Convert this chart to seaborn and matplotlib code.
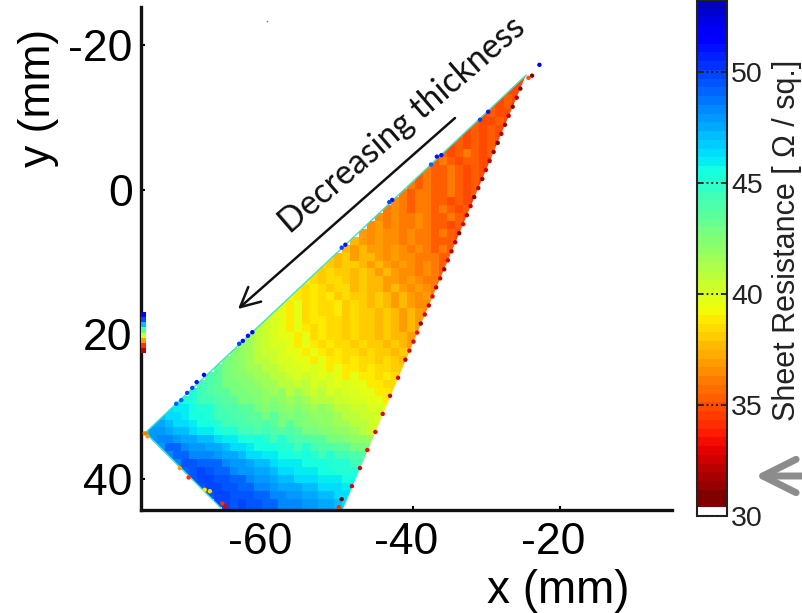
"""
Sheet resistance map of a wedge film with jet colour scale (coarse readout from the picture).
"""
import matplotlib

matplotlib.use("Agg")
import matplotlib.pyplot as plt
import matplotlib.transforms as mtrans
import numpy as np
import pandas as pd
import seaborn as sns
from matplotlib.colors import ListedColormap
from matplotlib.patches import Polygon

# grid of the map, mm
GRID_X0 = -77.2
GRID_Y0 = -16.62
GRID_STEP = 1.1
N_COLS = 49

# first column of each row, then sheet resistance along that row (ohm/sq)
row_start = [47, 46, 45, 44, 43, 42, 41, 40, 39, 38, 37, 36, 35, 34, 33, 32, 31, 30, 29, 28,
             27, 26, 25, 23, 22, 21, 20, 19, 18, 17, 16, 15, 14, 13, 12, 11, 10, 9, 8, 7,
             6, 4, 3, 2, 1, 0, 1, 2, 3, 4, 5, 6, 7, 8, 9, 10]
row_values = [
    [35, 34.5],
    [35, 35, 34.5],
    [35, 35, 34.5],
    [35, 35.5, 35, 34.5],
    [35.5, 35, 35.5, 34.5],
    [35, 35.5, 35, 35, 34.5],
    [35.5, 35, 35, 35.5, 35, 34.5],
    [35, 35.5, 35, 35.5, 35, 34.5],
    [35.5, 35, 35.5, 35, 35.5, 35, 34.5],
    [35, 35.5, 35, 35.5, 35, 35.5, 34.5],
    [35.5, 35, 35.5, 36, 35.5, 35, 35.5, 34.5],
    [35.5, 36, 35.5, 35, 35.5, 35.5, 35, 34.5],
    [36, 35.5, 35.5, 36, 35.5, 35, 35.5, 35, 34.5],
    [35.5, 36, 35.5, 35.5, 36, 35.5, 35, 35.5, 35, 34.5],
    [36, 35.5, 36, 35.5, 35.5, 36, 35.5, 35, 35.5, 34.5],
    [36, 35.5, 36, 36, 35.5, 35.5, 36, 35.5, 35, 35.5, 34.5],
    [36.5, 36, 35.5, 36, 36, 35.5, 35.5, 35, 35.5, 35, 34.5],
    [36, 36.5, 36, 35.5, 36, 36, 35.5, 36, 35.5, 35, 35.5, 34.5],
    [36.5, 36, 36.5, 36, 36, 36.5, 36, 35.5, 35.5, 36, 35.5, 35, 34.5],
    [36.5, 37, 36, 36.5, 36, 36, 36.5, 36, 35.5, 35.5, 35, 35.5, 34.5],
    [37, 36.5, 37, 36.5, 36.5, 36, 36.5, 36, 36, 35.5, 36, 35.5, 35, 34.5],
    [37.5, 37, 36.5, 37, 36.5, 36.5, 36, 36.5, 36, 36, 35.5, 35.5, 35.5, 35],
    [37.5, 37, 37.5, 37, 37, 36.5, 37, 36.5, 36, 36.5, 36, 35.5, 36, 35.5, 35],
    [38, 37.5, 38, 37, 37.5, 37.5, 37, 36.5, 37, 36.5, 36.5, 36, 36, 36, 35.5, 35.5, 35],
    [38.5, 38, 37.5, 38, 38, 37.5, 37, 37.5, 37, 36.5, 37, 36.5, 36, 36.5, 36, 35.5, 35],
    [38.5, 38, 38.5, 38, 38, 37.5, 38, 37.5, 37, 37.5, 37, 36.5, 36.5, 36, 36.5, 36, 35.5, 35],
    [39, 38.5, 38, 38.5, 38.5, 38, 37.5, 38, 37.5, 37.5, 37, 37, 36.5, 37, 36.5, 36, 36, 35],
    [39, 38.5, 39, 38.5, 38, 38.5, 38.5, 37.5, 38, 37.5, 37.5, 37, 37.5, 37, 36.5, 37, 36.5, 36, 35.5],
    [39.5, 39, 38.5, 39, 38.5, 39, 38, 38.5, 38, 38, 37.5, 38, 37.5, 37, 37.5, 37, 36.5, 37, 36, 35.5],
    [39.5, 39, 39.5, 38.5, 39, 38.5, 38.5, 39, 38, 38.5, 38, 37.5, 38, 37.5, 37, 37.5, 37, 36.5, 36.5, 36],
    [40, 39.5, 39, 39.5, 38.5, 39, 38.5, 38.5, 39, 38, 38.5, 38, 38, 37.5, 38, 37.5, 37, 37.5, 37, 36.5, 36],
    [40.5, 40, 39.5, 39, 39.5, 38.5, 39, 39, 38.5, 38.5, 38, 38.5, 38, 38, 37.5, 38, 37.5, 37, 37.5, 37, 36.5],
    [41, 40.5, 40, 39.5, 39, 39.5, 39, 38.5, 39, 38.5, 38.5, 38, 38.5, 38, 38, 37.5, 38, 37.5, 37, 37.5, 37, 36.5],
    [41.5, 41, 40.5, 40, 39.5, 39.5, 39, 39.5, 38.5, 39, 38.5, 38.5, 38, 38.5, 38, 38, 37.5, 38, 37.5, 37.5, 37, 37, 36.5],
    [42, 41.5, 41, 40.5, 40, 40, 39.5, 39, 39.5, 39, 38.5, 39, 38.5, 38.5, 38, 38.5, 38, 38, 37.5, 38, 37.5, 37, 37],
    [42.5, 42, 41.5, 41, 40.5, 40.5, 40, 39.5, 39.5, 39, 39.5, 39, 38.5, 39, 38.5, 38.5, 38, 38.5, 38, 38, 37.5, 38, 37.5, 37],
    [43, 42.5, 42, 41.5, 41, 41, 40.5, 40, 40, 39.5, 39.5, 39, 39.5, 39, 39, 38.5, 39, 38.5, 38.5, 38, 38.5, 38, 37.5, 37.5],
    [43.5, 43, 42.5, 42, 41.5, 41.5, 41, 41, 40.5, 40, 40, 39.5, 40, 39.5, 39, 39.5, 39, 39, 38.5, 39, 38.5, 38.5, 38, 38, 37.5],
    [44, 43.5, 43, 42.5, 42.5, 42, 41.5, 41.5, 41, 41, 40.5, 40, 40.5, 40, 39.5, 40, 39.5, 39, 39.5, 39, 39, 38.5, 39, 38.5, 38],
    [44.5, 44, 43.5, 43, 43, 42.5, 42.5, 42, 41.5, 41.5, 41, 41, 40.5, 41, 40, 40.5, 40, 39.5, 40, 39.5, 39.5, 39, 39, 38.5, 38.5, 38],
    [45, 44.5, 44, 43.5, 43.5, 43, 43, 42.5, 42.5, 42, 41.5, 42, 41, 41.5, 41, 40.5, 41, 40, 40.5, 40, 40, 39.5, 39.5, 39, 39, 38.5, 38],
    [46, 45.5, 45, 44.5, 44.5, 44, 43.5, 43.5, 43, 43, 42.5, 42, 42.5, 42, 41.5, 42, 41.5, 41, 41, 41, 40.5, 40.5, 40, 40, 39.5, 39.5, 39, 38.5],
    [46.5, 46, 46, 45.5, 45, 45, 44.5, 44, 44, 43.5, 43.5, 43, 42.5, 43, 42.5, 42, 42.5, 42, 41.5, 42, 41.5, 41, 41, 40.5, 40.5, 40, 40, 39.5, 39],
    [47, 46.5, 46.5, 46, 45.5, 45.5, 45, 44.5, 44.5, 44, 44, 43.5, 43.5, 43, 43.5, 43, 42.5, 43, 42.5, 42, 42, 42, 41.5, 41, 41, 40.5, 40.5, 40, 39.5],
    [47.5, 47.5, 47, 46.5, 46.5, 46, 45.5, 45.5, 45, 44.5, 44.5, 44, 44, 43.5, 44, 43.5, 43, 43.5, 43, 42.5, 42.5, 42, 42, 41.5, 41.5, 41, 41, 40.5, 40, 39.5],
    [47, 48, 48, 47.5, 47, 47, 46.5, 46, 46, 45.5, 45, 45, 44.5, 44.5, 44, 44.5, 44, 43.5, 44, 43.5, 43, 43, 42.5, 42.5, 42, 42, 41.5, 41, 40.5, 40],
    [48, 48.5, 48.5, 48, 47.5, 47.5, 47, 47, 46.5, 46, 46, 45.5, 45, 45.5, 45, 44.5, 45, 44.5, 44, 44, 43.5, 43.5, 43, 43, 42.5, 42, 42, 41.5, 41],
    [48, 49, 49, 48.5, 48, 48, 47.5, 47.5, 47, 46.5, 46.5, 46, 45.5, 45.5, 45.5, 45, 45, 44.5, 45, 44.5, 44, 44, 43.5, 43.5, 43, 43, 42.5, 42],
    [48.5, 49, 49, 48.5, 48.5, 48.5, 48, 47.5, 47.5, 47, 46.5, 46.5, 46, 46, 45.5, 45.5, 45, 45.5, 45, 44.5, 45, 44.5, 44.5, 44, 43.5, 43],
    [48.5, 49.5, 49.5, 49, 49, 49, 48.5, 48, 48, 47.5, 47, 47, 46.5, 46, 46, 46, 45.5, 45.5, 45.5, 45, 45, 45, 44.5, 44.5, 44],
    [49, 49.5, 50, 49.5, 49, 49, 48.5, 48, 48, 47.5, 47.5, 47, 46.5, 46.5, 46, 46, 46, 45.5, 45.5, 45, 45, 45, 44.5],
    [49.5, 50, 50, 49.5, 49.5, 49, 49, 48.5, 48, 48, 47.5, 47, 47, 46.5, 46.5, 46.5, 46, 46, 46, 45.5, 45.5, 45],
    [49.5, 50, 50, 49.5, 49.5, 49, 49, 48.5, 48.5, 48, 47.5, 47.5, 47.5, 47, 47, 46.5, 46.5, 46.5, 46, 46, 45.5],
    [49.5, 50, 50, 49.5, 49.5, 49.5, 49, 49, 48.5, 48.5, 48, 48, 47.5, 47.5, 47, 47, 46.5, 46.5, 46],
    [50, 50, 49.5, 50, 49.5, 49.5, 49, 49, 48.5, 48.5, 48.5, 48, 48, 47.5, 47.5, 47, 46.5, 46.5],
    [50, 49.5, 50, 49.5, 49.5, 49, 49, 48.5, 48.5, 48.5, 48, 48, 47.5, 47.5, 47, 46.5],
]

# outline of the film, mm
film_x = [-24.6, -76.6, -66.2, -49.6]
film_y = [-15.9, 33.6, 44.1, 44.1]

# stray readings on the edges of the film
edge_x = [-22.8, -23.8, -24.3, -29.8, -30.9, -36.2, -36.8, -37.6, -42.9, -43.3, -49.3, -49.8,
          -62.0, -62.6, -63.3, -63.8, -68.6, -69.6, -70.2, -70.9, -71.7, -72.4,
          -76.7, -76.3, -70.7, -68.5, -67.8, -66.1, -65.6, -71.9, -49.8, -50.2,
          -25.4, -26.45, -27.5, -28.5, -29.6, -30.6, -31.7, -32.7, -33.75, -34.8, -35.8, -36.9,
          -37.9, -39.0, -40.0, -41.1, -42.1, -43.2, -44.2, -45.2, -46.3, -47.3, -48.4,
          -25.9, -27.0, -28.0, -29.05, -30.1, -31.15, -32.2, -33.2, -34.3, -35.3, -36.35, -37.4,
          -38.45, -39.5, -40.55]
edge_y = [-17.3, -15.8, -15.5, -10.8, -9.7, -4.8, -4.6, -3.5, 1.4, 1.7, 7.6, 8.0,
          19.7, 20.2, 20.9, 21.3, 25.6, 26.6, 27.4, 28.1, 29.1, 29.6,
          33.7, 34.1, 39.8, 41.5, 41.7, 43.4, 43.8, 38.5, 42.8, 43.9,
          -14, -11.5, -9, -6.5, -4, -1.5, 1, 3.5, 6, 8.5, 11, 13.5,
          16, 18.5, 21, 23.5, 26, 28.5, 31, 33.5, 36, 38.5, 41,
          -12.75, -10.25, -7.75, -5.25, -2.75, -0.25, 2.25, 4.75, 7.25, 9.75, 12.25, 14.75,
          17.25, 19.75, 22.25]
edge_val = [52, 31, 35, 51, 50, 51, 51, 49, 51, 50, 51, 50,
            52, 51, 51, 50, 52, 51, 50, 50, 49, 49,
            36, 37, 34, 39, 38.5, 34, 33, 37, 31, 34,
            31, 31, 31.5, 31, 32, 31.5, 31, 32, 31, 32, 31.5, 32,
            32.5, 31.5, 33, 32, 33, 32.5, 33, 33, 33.5, 33, 33,
            32, 32.5, 32, 31.5, 32.5, 32, 32.5, 33, 32, 33, 32.5, 33,
            33, 33.5, 33]

# colour sliver on the left axis
sliver_y = [17.3, 18.0, 18.7, 19.4, 20.1, 20.8, 21.5, 22.2]
sliver_val = [52, 50, 47, 44, 40, 37, 34, 32]

x_ticks = [-60, -40, -20]
y_ticks = [-20, 0, 20, 40]
cbar_ticks = [30, 35, 40, 45, 50]
VMIN, VMAX = 30, 53.25


def col(x):
    return (np.asarray(x, dtype=float) - GRID_X0) / GRID_STEP


def row(y):
    return (np.asarray(y, dtype=float) - GRID_Y0) / GRID_STEP


sns.set_style("white")
plt.rcParams["font.family"] = ["Liberation Sans", "DejaVu Sans"]

# 59 levels of reversed jet with the lowest one white
n_levels = 59
centres = np.linspace(VMIN, VMAX, n_levels, endpoint=False) + (VMAX - VMIN) / n_levels / 2
jet_colors = plt.get_cmap("jet_r")((centres - 30.9) / 23.5)
jet_colors[0] = (1, 1, 1, 1)
sheet_cmap = ListedColormap(jet_colors)

grid = np.full((len(row_values), N_COLS), np.nan)
for i, (start, vals) in enumerate(zip(row_start, row_values)):
    grid[i, start:start + len(vals)] = vals
df_grid = pd.DataFrame(grid)

fig = plt.figure(figsize=(8.02, 6.13), dpi=100)
ax = fig.add_axes([141 / 802, 1 - 510 / 613, 531 / 802, 503 / 613])
cax = fig.add_axes([697 / 802, 1 - 516 / 613, 30 / 802, 516 / 613])

sns.heatmap(
    df_grid,
    cmap=sheet_cmap,
    vmin=VMIN,
    vmax=VMAX,
    ax=ax,
    cbar_ax=cax,
    cbar_kws={"ticks": cbar_ticks},
    xticklabels=False,
    yticklabels=False,
)

# cut the coarse cells along the film outline
film = Polygon(np.column_stack([col(film_x), row(film_y)]), closed=True, transform=ax.transData)
ax.collections[0].set_clip_path(film)

ax.plot(col(film_x[:3]), row(film_y[:3]), color="#3fe0cc", lw=1.0, zorder=3)
ax.scatter(col(edge_x), row(edge_y), c=edge_val, cmap=sheet_cmap, vmin=VMIN, vmax=VMAX,
           s=10, linewidths=0, zorder=4, clip_on=False)
ax.scatter(col([-76.9] * len(sliver_y)), row(sliver_y), c=sliver_val, cmap=sheet_cmap,
           vmin=VMIN, vmax=VMAX, s=14, marker="s", linewidths=0, zorder=4, clip_on=False)
ax.scatter(col([-60]), row([-23.3]), color="#777777", s=1.5, linewidths=0)

ax.set_xlim(col(-77.2), col(-4.7))
ax.set_ylim(row(44.3), row(-25.3))

ax.set_xticks(col(x_ticks))
ax.set_xticklabels([str(t) for t in x_ticks], fontsize=32)
ax.set_yticks(row(y_ticks))
ax.set_yticklabels([str(t) for t in y_ticks], fontsize=32)
ax.tick_params(axis="both", direction="in", length=3, width=1.5, colors="black",
               bottom=True, left=True)
ax.tick_params(axis="x", pad=9)
ax.tick_params(axis="y", pad=6)
shift = mtrans.ScaledTranslation(-7 / 100, 0, fig.dpi_scale_trans)
for label in ax.get_xticklabels():
    label.set_transform(label.get_transform() + shift)

for side in ("left", "bottom"):
    ax.spines[side].set_visible(True)
    ax.spines[side].set_linewidth(2.4)
    ax.spines[side].set_color("#111111")
ax.spines["top"].set_visible(False)
ax.spines["right"].set_visible(False)

ax.set_xlabel("x (mm)", fontsize=33, color="black")
ax.xaxis.set_label_coords((558 - 141) / 531, (510 - 569) / 503)
ax.set_ylabel("y (mm)", fontsize=32, va="baseline", color="black")
ax.yaxis.set_label_coords((50 - 141) / 531, (510 - 98) / 503)

cbar = ax.collections[0].colorbar
cbar.outline.set_visible(True)
cbar.outline.set_linewidth(1.5)
cbar.outline.set_edgecolor("#222222")
cax.set_axisbelow(False)
cax.grid(True, axis="y", color="#111111", linestyle=":", linewidth=1.3)
cax.tick_params(axis="y", direction="in", length=4, width=1.3, left=True, right=True,
                labelleft=False, labelright=True, labelsize=20.5, pad=3, colors="#222222")
fig.text(787 / 802, 1 - 240 / 613, "Sheet Resistance [ \u03a9 / sq.]", rotation=90,
         ha="center", va="center", fontsize=22, color="#222222")

fig.text(402 / 802, 1 - 125 / 613, "Decreasing thickness", rotation=40.7, ha="center",
         va="center", fontsize=24.3, family=["Lato", "DejaVu Sans"], color="#111111")
ax.annotate("", xy=(238, 613 - 309), xytext=(455, 613 - 118), xycoords="figure pixels",
            textcoords="figure pixels",
            arrowprops=dict(arrowstyle="->,head_length=0.7,head_width=0.35", color="#111111",
                            lw=1.8, mutation_scale=20, shrinkA=0, shrinkB=0))
ax.annotate("", xy=(755, 613 - 476), xytext=(806, 613 - 476), xycoords="figure pixels",
            textcoords="figure pixels", annotation_clip=False,
            arrowprops=dict(arrowstyle="->,head_length=1.0,head_width=0.5", color="#8c8c8c",
                            lw=5, mutation_scale=24, shrinkA=0, shrinkB=0))

fig.savefig("out.png", dpi=100)
plt.close(fig)
